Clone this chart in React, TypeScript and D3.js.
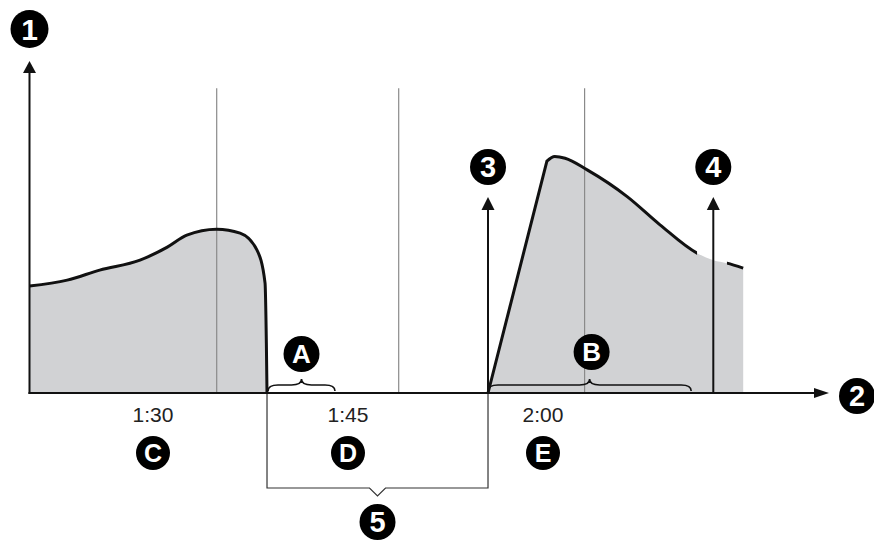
import React from 'react';
import * as d3 from 'd3';

// time in seconds, value in % of axis height
const leftTimes = [80.5, 83.4, 85.9, 89.0, 91.1, 92.6, 94.9, 96.7, 98.0, 98.62, 98.72, 98.77];
const leftValues = [32.1, 33.9, 36.9, 39.9, 43.8, 47.4, 49.2, 48.0, 42.9, 33.0, 15.0, 0];

const rightTimes = [115.77, 120.3, 120.9, 121.7, 123.4, 126.5, 129.0, 131.85, 133.1, 134.15, 135.4];
const rightValues = [0, 69.6, 71.0, 70.5, 67.0, 58.9, 50.5, 42.0, 39.9, 39.0, 37.5];
const strokeGap = [131.85, 134.15];

const gridTimes = [94.9, 108.9, 123.2];
const tickTimes = [90, 105, 120];
const tickLabels = ['1:30', '1:45', '2:00'];
const tickLetters = ['C', 'D', 'E'];

const width = 874;
const height = 544;
const font = "'Liberation Sans', Arial, sans-serif";

const Marker = ({ cx, cy, r, label, size }: { cx: number; cy: number; r: number; label: string; size: number }) => (
  <g>
    <circle cx={cx} cy={cy} r={r} fill="#000" />
    <text x={cx} y={cy} dy="0.36em" textAnchor="middle" fill="#fff"
      fontFamily={font} fontWeight="bold" fontSize={size}>{label}</text>
  </g>
);

// horizontal curly brace, tip pointing up
const brace = (x1: number, x2: number, y0: number, h: number) => {
  const xm = (x1 + x2) / 2;
  const ym = y0 - h / 2;
  const r = Math.min(10, (x2 - x1) / 6);
  return `M${x1},${y0} Q${x1},${ym} ${x1 + r},${ym} L${xm - r},${ym} Q${xm},${ym} ${xm},${y0 - h}`
    + ` Q${xm},${ym} ${xm + r},${ym} L${x2 - r},${ym} Q${x2},${ym} ${x2},${y0}`;
};

export default function App() {
  const x = d3.scaleLinear().domain([90, 120]).range([153, 543]);
  const y = d3.scaleLinear().domain([0, 100]).range([393, 60]);

  const x0 = x(80.5);
  const xEnd = x(142);
  const y0 = y(0);

  const left = leftTimes.map((t, i) => [t, leftValues[i]] as [number, number]);
  const right = rightTimes.map((t, i) => [t, rightValues[i]] as [number, number]);

  const line = d3.line<[number, number]>().x(d => x(d[0])).y(d => y(d[1])).curve(d3.curveMonotoneX);
  const area = d3.area<[number, number]>().x(d => x(d[0])).y0(y0).y1(d => y(d[1])).curve(d3.curveMonotoneX);

  // right shape: straight rise, then smooth decay
  const rStart = x(rightTimes[0]);
  const rEnd = x(rightTimes[rightTimes.length - 1]);
  const decay = (line(right.slice(1)) ?? '').slice(1);
  const rightLine = `M${rStart},${y0}L${decay}`;
  const rightArea = `${rightLine}L${rEnd},${y0}Z`;

  const arrowUp = (ax: number, tipY: number, w: number, h: number) =>
    `M${ax},${tipY} L${ax - w / 2},${tipY + h} L${ax + w / 2},${tipY + h} Z`;

  const lEnd = x(leftTimes[leftTimes.length - 1]);
  const arrow4X = x(133.1);
  const midBr = (lEnd + rStart) / 2;

  return (
    <svg width={width} height={height} style={{ position: 'absolute', left: 0, top: 0, background: '#fff' }}>
      <defs>
        <mask id="gap">
          <rect x={0} y={0} width={width} height={height} fill="#fff" />
          <rect x={x(strokeGap[0])} y={0} width={x(strokeGap[1]) - x(strokeGap[0])} height={height} fill="#000" />
        </mask>
      </defs>

      {/* areas */}
      <path d={area(left) ?? ''} fill="#d1d2d4" />
      <path d={rightArea} fill="#d1d2d4" />

      {/* gridlines */}
      {gridTimes.map(t => (
        <line key={t} x1={x(t)} x2={x(t)} y1={y(91.5)} y2={y0} stroke="#8a8a8a" strokeWidth={1.2} />
      ))}

      {/* curves */}
      <path d={line(left) ?? ''} fill="none" stroke="#111" strokeWidth={3} />
      <path d={rightLine} fill="none" stroke="#111" strokeWidth={3} strokeLinejoin="round" mask="url(#gap)" />

      {/* bracket 5 */}
      <path d={`M${lEnd},${y0} V488 H${midBr - 8} L${midBr},496 L${midBr + 8},488 H${rStart} V${y0}`}
        fill="none" stroke="#333" strokeWidth={1.2} />

      {/* braces */}
      <path d={brace(lEnd + 1, x(104.0), 391, 12)} fill="none" stroke="#111" strokeWidth={1.6} />
      <path d={brace(rStart, x(131.4), 391, 12)} fill="none" stroke="#111" strokeWidth={1.6} />

      {/* axes */}
      <line x1={x0} x2={x0} y1={70} y2={y0 + 1} stroke="#111" strokeWidth={2} />
      <path d={arrowUp(x0, 61, 13, 12)} fill="#111" />
      <line x1={x0 - 1} x2={xEnd - 14} y1={y0} y2={y0} stroke="#111" strokeWidth={2} />
      <path d={`M${xEnd},${y0} L${xEnd - 15},${y0 - 5} L${xEnd - 15},${y0 + 5} Z`} fill="#111" />

      {/* arrows 3 and 4 */}
      <line x1={rStart} x2={rStart} y1={205} y2={y0} stroke="#111" strokeWidth={2} />
      <path d={arrowUp(rStart, 197, 13, 13)} fill="#111" />
      <line x1={arrow4X} x2={arrow4X} y1={205} y2={y0} stroke="#111" strokeWidth={2} />
      <path d={arrowUp(arrow4X, 197, 13, 13)} fill="#111" />

      {/* tick labels */}
      {tickTimes.map((t, i) => (
        <g key={t}>
          <text x={x(t)} y={422} textAnchor="middle" fontFamily={font} fontSize={21} fill="#222">
            {tickLabels[i]}
          </text>
          <Marker cx={x(t)} cy={453} r={17} label={tickLetters[i]} size={25} />
        </g>
      ))}

      {/* numbered markers */}
      <Marker cx={x0} cy={29} r={19} label="1" size={30} />
      <Marker cx={857} cy={396} r={18} label="2" size={29} />
      <Marker cx={rStart} cy={167} r={18} label="3" size={29} />
      <Marker cx={arrow4X} cy={167} r={18} label="4" size={29} />
      <Marker cx={midBr} cy={522} r={18} label="5" size={29} />
      <Marker cx={(lEnd + x(104.0)) / 2 + 0.5} cy={354} r={18} label="A" size={26} />
      <Marker cx={(rStart + x(131.4)) / 2 + 2} cy={352} r={18} label="B" size={26} />
    </svg>
  );
}
